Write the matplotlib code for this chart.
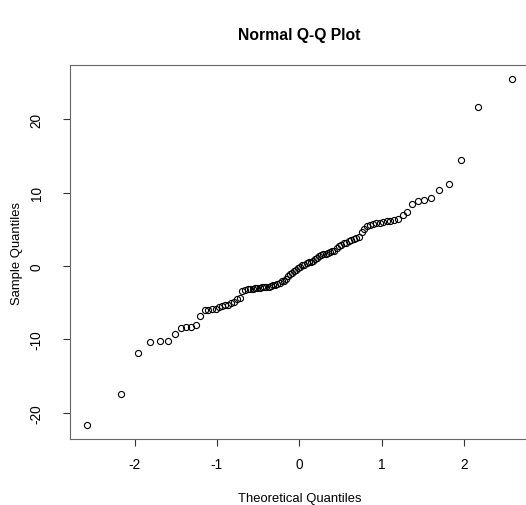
import numpy as np
import matplotlib
matplotlib.use("Agg")
import matplotlib.pyplot as plt
from statistics import NormalDist

# sorted sample values (n = 100)
sample = [
    -21.7, -17.5, -11.8, -10.4, -10.2, -10.2, -9.3, -8.5, -8.3, -8.3,
    -8.1, -6.8, -6.0, -6.0, -5.9, -5.8, -5.6, -5.4, -5.3, -5.3,
    -5.1, -4.9, -4.5, -4.3, -3.35, -3.25, -3.2, -3.15, -3.1, -3.05,
    -3.0, -2.95, -2.9, -2.9, -2.8, -2.8, -2.7, -2.6, -2.55, -2.45,
    -2.3, -2.1, -2.0, -1.8, -1.3, -1.1, -0.9, -0.7, -0.5, -0.3,
    -0.1, 0.1, 0.2, 0.4, 0.5, 0.6, 0.7, 0.9, 1.1, 1.4,
    1.5, 1.6, 1.7, 1.8, 1.9, 2.0, 2.1, 2.4, 2.7, 2.9,
    3.1, 3.2, 3.4, 3.5, 3.7, 3.8, 3.9, 4.6, 5.0, 5.5,
    5.6, 5.7, 5.8, 5.9, 6.0, 6.1, 6.2, 6.3, 6.4, 7.0,
    7.4, 8.4, 8.9, 9.0, 9.3, 10.4, 11.2, 14.5, 21.7, 25.5,
]
x_ticks = [-2, -1, 0, 1, 2]
y_ticks = [-20, -10, 0, 10, 20]

# theoretical quantiles as qqnorm computes them (ppoints)
n = len(sample)
theo = [NormalDist().inv_cdf((i - 0.5) / n) for i in range(1, n + 1)]

plt.rcParams["font.family"] = ["Liberation Sans", "DejaVu Sans"]

fig = plt.figure(figsize=(5.26, 5.06), dpi=100)
ax = fig.add_axes([0.1333, 0.1304, 0.8715, 0.739])

ax.plot(theo, sample, linestyle="none", marker="o", markersize=4.4,
        markerfacecolor="none", markeredgecolor="black", markeredgewidth=0.8)

ax.margins(0.04)
ax.set_xticks(x_ticks)
ax.set_yticks(y_ticks)
ax.set_xticklabels([str(t) for t in x_ticks], fontsize=9.8)
ax.set_yticklabels([str(t) for t in y_ticks], fontsize=9.8, rotation=90, va="center")
ax.tick_params(direction="out", length=5, width=0.8, color="#333333")
ax.tick_params(axis="x", pad=8)
ax.tick_params(axis="y", pad=14)
for s in ax.spines.values():
    s.set_color("#666666")
    s.set_linewidth(0.8)

ax.set_xlabel("Theoretical Quantiles", fontsize=9.4, labelpad=15)
ax.set_ylabel("Sample Quantiles", fontsize=9.4, labelpad=4.5)
ax.set_title("Normal Q-Q Plot", fontsize=11.3, fontweight="bold", pad=19)

fig.savefig("out.png", dpi=100)
